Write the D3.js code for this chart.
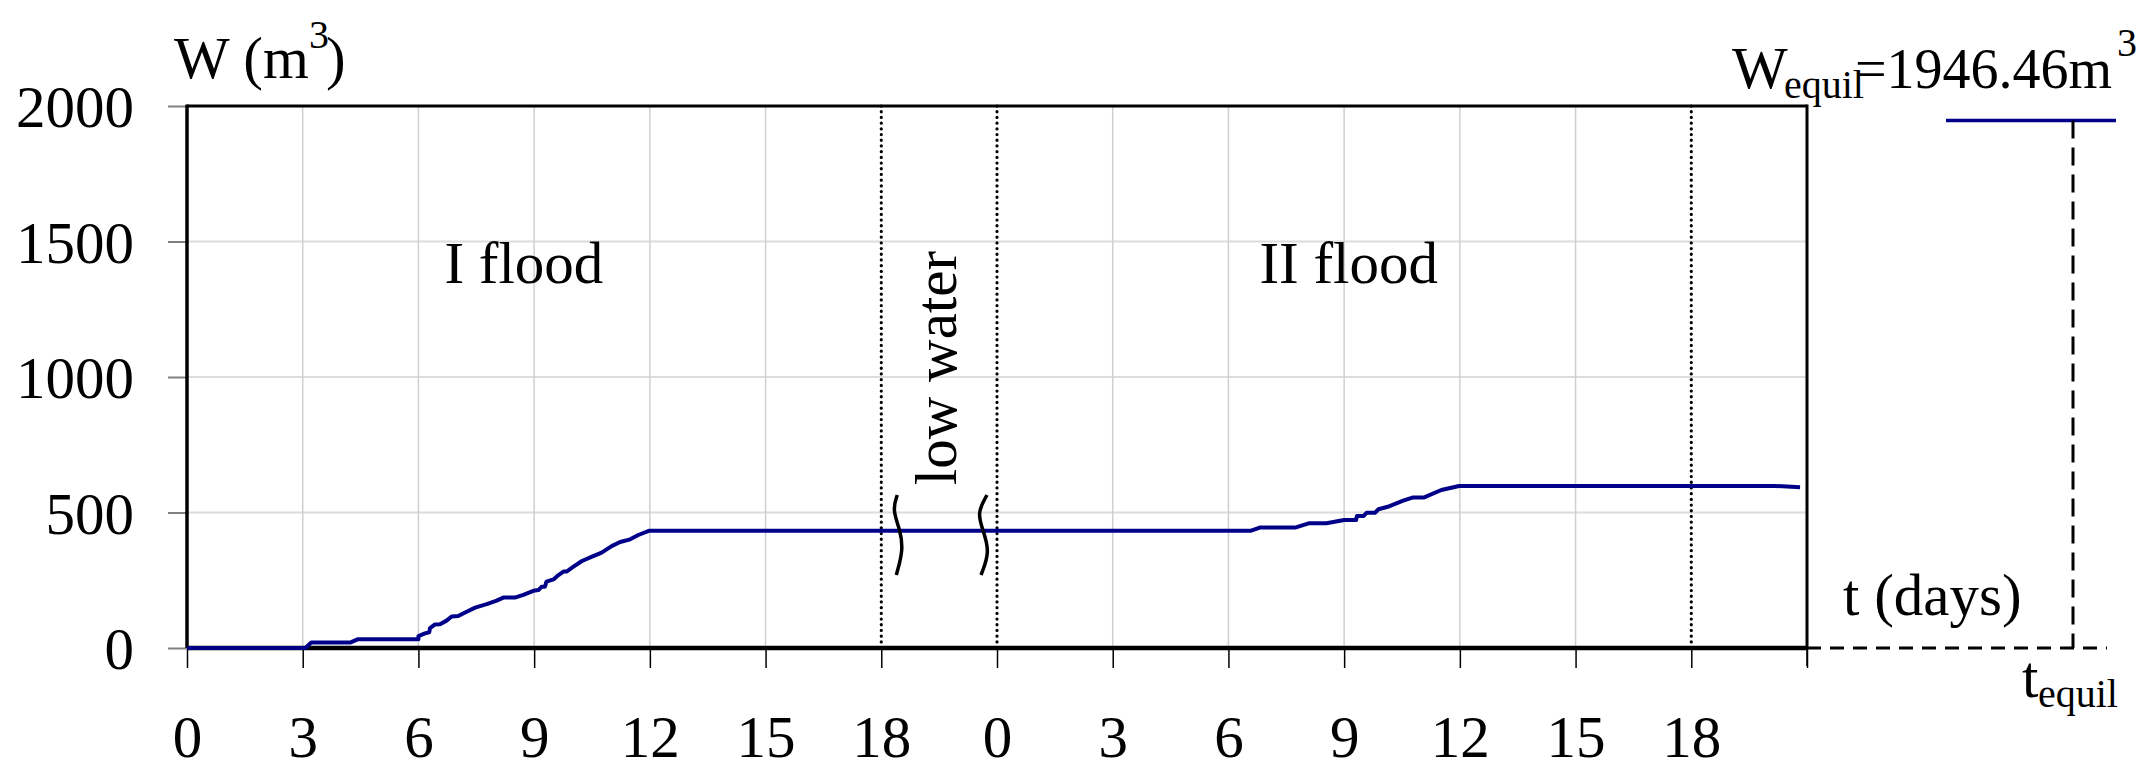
<!DOCTYPE html>
<html>
<head>
<meta charset="utf-8">
<script src="https://cdn.jsdelivr.net/npm/d3@7"></script>
<style>
  body { margin: 0; background: #fff; }
  svg { display: block; font-family: "Liberation Serif", "Times New Roman", serif; }
</style>
</head>
<body>
<figure id="chart" style="margin:0"></figure>
<script>
// time runs continuously: I flood 0-18, low water 18-21, II flood 21-42 (days)
const tDays = [0, 3.07, 3.22, 4.23, 4.42, 6.0, 6.0, 6.17, 6.28, 6.30, 6.43, 6.56, 6.73, 6.86, 7.03,
  7.25, 7.47, 7.77, 8.03, 8.20, 8.50, 8.72, 8.98, 9.11, 9.19, 9.28, 9.32, 9.50, 9.63, 9.76, 9.84,
  10.02, 10.24, 10.50, 10.75, 11.01, 11.23, 11.49, 11.70, 11.99,
  27.59, 27.83, 28.75, 29.08, 29.54, 30.0, 30.31, 30.33, 30.50, 30.58, 30.80, 30.89, 31.13,
  31.53, 31.77, 32.06, 32.52, 32.98, 41.18, 41.82];
const wValues = [0, 0, 20, 20, 32, 32, 44, 54, 58, 73, 87, 88, 101, 116, 118,
  134, 149, 162, 175, 186, 186, 196, 211, 214, 226, 226, 245, 253, 269, 282, 282,
  300, 321, 337, 352, 376, 391, 401, 417, 433,
  433, 445, 445, 460, 460, 472, 472, 487, 487, 499, 499, 512, 521,
  544, 555, 555, 583, 598, 598, 593];

const tickDays = [0, 3, 6, 9, 12, 15, 18, 21, 24, 27, 30, 33, 36, 39, 42];
const tickLabels = ["0", "3", "6", "9", "12", "15", "18", "0", "3", "6", "9", "12", "15", "18", ""];
const yTicks = [0, 500, 1000, 1500, 2000];
const dottedDays = [18, 21, 39];
const wEquil = 1946.46;
const periodNames = ["I flood", "low water", "II flood"];

const width = 2156, height = 777;
const plotLeft = 187, plotRight = 1807, plotTop = 106, plotBottom = 648;
const FS = 59, FS_SMALL = 40;

const svg = d3.select("#chart").append("svg").attr("width", width).attr("height", height);

const x = d3.scaleLinear().domain([0, 42]).range([plotLeft, plotRight]);
const y = d3.scaleLinear().domain([0, 2000]).range([plotBottom, plotTop]);

// grid
svg.append("g").selectAll("line")
  .data(yTicks.filter(d => d > 0 && d < 2000)).enter().append("line")
  .attr("x1", plotLeft).attr("x2", plotRight)
  .attr("y1", d => y(d)).attr("y2", d => y(d))
  .attr("stroke", "#dcdcdc").attr("stroke-width", 2);

svg.append("g").selectAll("line")
  .data(tickDays.filter(d => d > 0 && d < 42 && !dottedDays.includes(d))).enter().append("line")
  .attr("x1", d => x(d)).attr("x2", d => x(d))
  .attr("y1", plotTop).attr("y2", plotBottom)
  .attr("stroke", "#cfcfcf").attr("stroke-width", 1.5);

// dotted separators
svg.append("g").selectAll("line")
  .data(dottedDays).enter().append("line")
  .attr("x1", d => x(d)).attr("x2", d => x(d))
  .attr("y1", plotTop).attr("y2", plotBottom)
  .attr("stroke", "#000").attr("stroke-width", 3.2)
  .attr("stroke-linecap", "round").attr("stroke-dasharray", "0.1,5.6");

// x axis
const xAxis = svg.append("g")
  .attr("transform", "translate(0," + plotBottom + ")")
  .call(d3.axisBottom(x).tickValues(tickDays).tickFormat((d, i) => tickLabels[i]).tickSize(20));
xAxis.select(".domain").remove();
xAxis.selectAll(".tick line").attr("stroke", "#000").attr("stroke-width", 1.5);
xAxis.selectAll("text").attr("y", 109).attr("dy", 0)
  .style("font-size", FS + "px").style("font-family", "Liberation Serif").attr("fill", "#000");

// y axis
const yAxis = svg.append("g")
  .attr("transform", "translate(" + plotLeft + ",0)")
  .call(d3.axisLeft(y).tickValues(yTicks).tickFormat(d3.format("d")).tickSize(19));
yAxis.select(".domain").remove();
yAxis.selectAll(".tick line").attr("stroke", "#808080").attr("stroke-width", 2);
yAxis.selectAll("text").attr("x", -53).attr("dy", "0.35em")
  .style("font-size", FS + "px").style("font-family", "Liberation Serif").attr("fill", "#000");

// frame
svg.append("line").attr("x1", plotLeft).attr("x2", plotRight).attr("y1", plotTop).attr("y2", plotTop)
  .attr("stroke", "#000").attr("stroke-width", 3);
svg.append("line").attr("x1", plotLeft).attr("x2", plotLeft).attr("y1", plotTop - 1.5).attr("y2", plotBottom)
  .attr("stroke", "#000").attr("stroke-width", 3.5);
svg.append("line").attr("x1", plotRight).attr("x2", plotRight).attr("y1", plotTop - 1.5).attr("y2", plotBottom)
  .attr("stroke", "#000").attr("stroke-width", 3);
svg.append("line").attr("x1", plotLeft).attr("x2", plotRight).attr("y1", plotBottom).attr("y2", plotBottom)
  .attr("stroke", "#000").attr("stroke-width", 4.5);

// data line (flat through low water to the start of the II flood rise)
const line = d3.line().x(d => x(d[0])).y(d => y(d[1]));
svg.append("path")
  .datum(tDays.map((t, i) => [t, wValues[i]]))
  .attr("d", line)
  .attr("fill", "none").attr("stroke", "#000088").attr("stroke-width", 4)
  .attr("stroke-linejoin", "round");

// break marks round the low-water gap
const brace = d3.line().curve(d3.curveBasis);
const yMid = y(417);
const leftBrace = [[16, -40], [11, -25], [19, -5], [22, 15], [15, 40]];
const rightBrace = [[-10, -40], [-20, -22], [-14, -5], [-7, 17], [-16, 40]];
svg.append("path").attr("d", brace(leftBrace.map(p => [x(18) + p[0], yMid + p[1]])))
  .attr("fill", "none").attr("stroke", "#000").attr("stroke-width", 3.5);
svg.append("path").attr("d", brace(rightBrace.map(p => [x(21) + p[0], yMid + p[1]])))
  .attr("fill", "none").attr("stroke", "#000").attr("stroke-width", 3.5);

// period labels
svg.append("text").attr("x", x(6) + 26).attr("y", 283).style("font-size", FS + "px").text(periodNames[0]);
svg.append("text").attr("x", x(27) + 31).attr("y", 283).style("font-size", FS + "px").text(periodNames[2]);
svg.append("text")
  .attr("transform", "translate(956,368) rotate(-90)")
  .attr("text-anchor", "middle").style("font-size", FS + "px").text(periodNames[1]);

// axis titles
const yTitle = svg.append("text").attr("x", 174).attr("y", 78).style("font-size", FS + "px");
yTitle.append("tspan").text("W (m");
yTitle.append("tspan").attr("dy", -30).style("font-size", FS_SMALL + "px").text("3");
yTitle.append("tspan").attr("dy", 30).attr("dx", -3).text(")");

svg.append("text").attr("x", 1843).attr("y", 615).style("font-size", FS + "px").text("t (days)");

// equilibrium annotation (not to scale in time)
const eqX1 = 1946, eqX2 = 2116, eqTx = 2073;
svg.append("line").attr("x1", eqX1).attr("x2", eqX2).attr("y1", y(wEquil)).attr("y2", y(wEquil))
  .attr("stroke", "#000088").attr("stroke-width", 3.5);
svg.append("line").attr("x1", eqTx).attr("x2", eqTx).attr("y1", y(wEquil)).attr("y2", plotBottom)
  .attr("stroke", "#000").attr("stroke-width", 3).attr("stroke-dasharray", "18,9");
svg.append("line").attr("x1", plotRight).attr("x2", 2107).attr("y1", plotBottom).attr("y2", plotBottom)
  .attr("stroke", "#000").attr("stroke-width", 3).attr("stroke-dasharray", "14,9");
svg.append("line").attr("x1", plotRight).attr("x2", plotRight).attr("y1", plotBottom).attr("y2", plotBottom + 18)
  .attr("stroke", "#000").attr("stroke-width", 1.5);

svg.append("text").attr("x", 1732).attr("y", 88).style("font-size", FS + "px").text("W");
svg.append("text").attr("x", 1784).attr("y", 98).style("font-size", FS_SMALL + "px").text("equil");
svg.append("text").attr("x", 1855).attr("y", 88).style("font-size", 56 + "px").text("=" + wEquil + "m");
svg.append("text").attr("x", 2117).attr("y", 56).style("font-size", FS_SMALL + "px").text("3");

svg.append("text").attr("x", 2022).attr("y", 697).style("font-size", FS + "px").text("t");
svg.append("text").attr("x", 2038).attr("y", 707).style("font-size", FS_SMALL + "px").text("equil");
</script>
</body>
</html>
